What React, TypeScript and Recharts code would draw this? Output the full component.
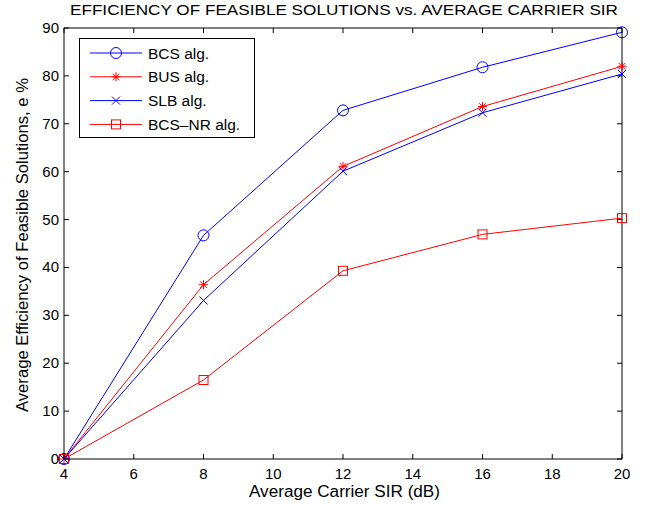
import { LineChart, Line, XAxis, YAxis, ReferenceArea, Legend } from "recharts"

const sir = [4, 8, 12, 16, 20]
const bcs = [0, 46.7, 72.8, 81.8, 89.1]
const bus = [0, 36.4, 61.1, 73.6, 82.0]
const slb = [0, 33.1, 60.1, 72.3, 80.4]
const bcsNr = [0, 16.5, 39.3, 46.9, 50.3]
const xTicks = [4, 6, 8, 10, 12, 14, 16, 18, 20]
const yTicks = [0, 10, 20, 30, 40, 50, 60, 70, 80, 90]

const series = [
  { key: "bcs", name: "BCS alg.", color: "#0000ff", marker: "circle" },
  { key: "bus", name: "BUS alg.", color: "#ff0000", marker: "star" },
  { key: "slb", name: "SLB alg.", color: "#0000ff", marker: "cross" },
  { key: "bcsNr", name: "BCS\u2013NR alg.", color: "#ff0000", marker: "square" },
]

const data = sir.map((s, i) => ({
  sir: s,
  bcs: bcs[i],
  bus: bus[i],
  slb: slb[i],
  bcsNr: bcsNr[i],
}))

const W = 655
const H = 508
const LEFT = 64
const RIGHT = 622
const TOP = 28
const BOTTOM = 459
const TICK = 5
const FONT = "'Liberation Sans', Arial, Helvetica, sans-serif"

function Marker({ kind, cx, cy, color }: { kind: string; cx: number; cy: number; color: string }) {
  if (kind === "circle") {
    return <circle cx={cx} cy={cy} r={5.5} fill="none" stroke={color} strokeWidth={1} />
  }
  if (kind === "square") {
    return <rect x={cx - 4.5} y={cy - 4.5} width={9} height={9} fill="none" stroke={color} strokeWidth={1} />
  }
  if (kind === "cross") {
    const s = 4
    return (
      <g stroke={color} strokeWidth={1}>
        <line x1={cx - s} y1={cy - s} x2={cx + s} y2={cy + s} />
        <line x1={cx - s} y1={cy + s} x2={cx + s} y2={cy - s} />
      </g>
    )
  }
  // asterisk
  const s = 4.5
  const d = 3.3
  return (
    <g stroke={color} strokeWidth={1}>
      <line x1={cx - s} y1={cy} x2={cx + s} y2={cy} />
      <line x1={cx} y1={cy - s} x2={cx} y2={cy + s} />
      <line x1={cx - d} y1={cy - d} x2={cx + d} y2={cy + d} />
      <line x1={cx - d} y1={cy + d} x2={cx + d} y2={cy - d} />
    </g>
  )
}

function XTick(props: any) {
  const { x, payload } = props
  return (
    <g>
      <line x1={x} y1={BOTTOM} x2={x} y2={BOTTOM - TICK} stroke="#000" />
      <line x1={x} y1={TOP} x2={x} y2={TOP + TICK} stroke="#000" />
      <text x={x} y={BOTTOM + 19.5} textAnchor="middle" fontSize={15} fontFamily={FONT} fill="#000">
        {payload.value}
      </text>
    </g>
  )
}

function YTick(props: any) {
  const { y, payload } = props
  return (
    <g>
      <line x1={LEFT} y1={y} x2={LEFT + TICK} y2={y} stroke="#000" />
      <line x1={RIGHT} y1={y} x2={RIGHT - TICK} y2={y} stroke="#000" />
      <text x={LEFT - 5} y={y + 5} textAnchor="end" fontSize={15} fontFamily={FONT} fill="#000">
        {payload.value}
      </text>
    </g>
  )
}

function LegendBox() {
  return (
    <svg width={176} height={100} style={{ display: "block" }}>
      <rect x={0.5} y={0.5} width={175} height={99} fill="#fff" stroke="#000" />
      {series.map((s, i) => {
        const cy = 15 + i * 23.8
        return (
          <g key={s.key}>
            <line x1={11} y1={cy} x2={63} y2={cy} stroke={s.color} />
            <Marker kind={s.marker} cx={37} cy={cy} color={s.color} />
            <text x={69} y={cy + 5.5} fontSize={15.5} fontFamily={FONT} fill="#000">
              {s.name}
            </text>
          </g>
        )
      })}
    </svg>
  )
}

export default function App() {
  return (
    <div style={{ position: "absolute", left: 0, top: 0, width: W, height: H, background: "#fff" }}>
      <LineChart
        width={W}
        height={H}
        data={data}
        margin={{ top: TOP, right: W - RIGHT, bottom: 19, left: 0 }}
      >
        <ReferenceArea x1={4} x2={20} y1={0} y2={90} fill="none" stroke="#000" strokeWidth={1} ifOverflow="visible" />
        <XAxis
          dataKey="sir"
          type="number"
          domain={[4, 20]}
          ticks={xTicks}
          height={30}
          axisLine={false}
          tickLine={false}
          tick={<XTick />}
          interval={0}
        />
        <YAxis
          type="number"
          domain={[0, 90]}
          ticks={yTicks}
          width={LEFT}
          axisLine={false}
          tickLine={false}
          tick={<YTick />}
          interval={0}
        />
        {series.map((s) => (
          <Line
            key={s.key}
            dataKey={s.key}
            name={s.name}
            stroke={s.color}
            strokeWidth={1}
            isAnimationActive={false}
            dot={(p: any) => <Marker key={`${s.key}-${p.index}`} kind={s.marker} cx={p.cx} cy={p.cy} color={s.color} />}
            activeDot={false}
          />
        ))}
        <Legend
          layout="vertical"
          align="center"
          verticalAlign="middle"
          content={() => <LegendBox />}
          wrapperStyle={{ left: 79, top: 38, width: 176, height: 100 }}
        />
        <text
          x={344}
          y={15}
          textAnchor="middle"
          fontSize={15.5}
          fontFamily={FONT}
          fill="#000"
          textLength={548}
          lengthAdjust="spacingAndGlyphs"
        >
          EFFICIENCY OF FEASIBLE SOLUTIONS vs. AVERAGE CARRIER SIR
        </text>
        <text
          x={344.5}
          y={497}
          textAnchor="middle"
          fontSize={16}
          fontFamily={FONT}
          fill="#000"
          textLength={191}
          lengthAdjust="spacingAndGlyphs"
        >
          Average Carrier SIR (dB)
        </text>
        <text
          x={28}
          y={245}
          textAnchor="middle"
          fontSize={16}
          fontFamily={FONT}
          fill="#000"
          textLength={334}
          lengthAdjust="spacingAndGlyphs"
          transform="rotate(-90 28 245)"
        >
          Average Efficiency of Feasible Solutions, e %
        </text>
      </LineChart>
    </div>
  )
}
